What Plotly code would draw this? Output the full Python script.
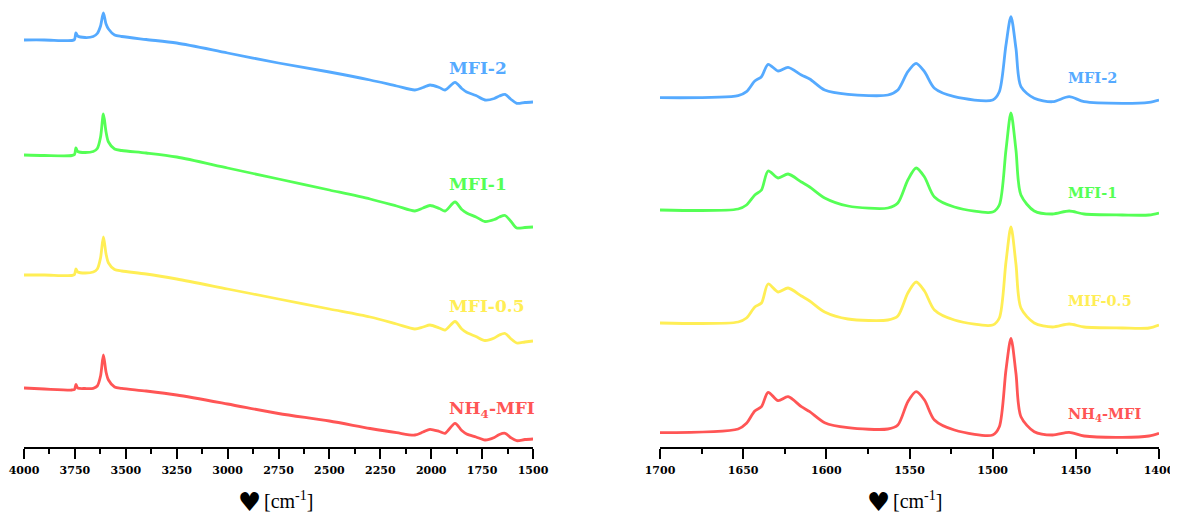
import plotly.graph_objects as go

# ---------------- data (intensity in arbitrary, stacked units) ----------------
WN_LEFT = [4000, 3900, 3765, 3752, 3745, 3736, 3700, 3660, 3640, 3624, 3610, 3597, 3585,
           3555, 3520, 3400, 3250, 3000, 2750, 2500, 2300, 2170, 2080, 2040, 2006, 1960,
           1932, 1883, 1850, 1826, 1780, 1736, 1690, 1665, 1637, 1610, 1580, 1540, 1500]

MFI2_LEFT = [407, 407, 406.5, 407.5, 414, 411, 409.5, 410.5, 413.5, 421, 434, 423, 418,
             412, 410.5, 407.5, 404, 394, 384, 375, 367, 361, 357, 359.5, 362, 359.5,
             357, 364.7, 358.5, 355, 351.5, 347, 348.5, 351, 352.7, 348, 343.7, 344.5, 345]
MFI1_LEFT = [292, 291.5, 291.5, 292.5, 299, 295.5, 294.5, 295.5, 298.5, 310, 333, 315, 305,
             298, 296.5, 294, 290, 279, 268, 257, 248, 241, 236, 239, 241.5, 238.5,
             236, 245, 237.5, 234, 230, 225.5, 227.5, 230, 231.5, 226, 219, 219.5, 220]
MFI05_LEFT = [172, 172, 171.5, 172.5, 178, 175, 174, 175, 178, 189, 210, 193, 184,
              177.5, 176, 173, 168, 158, 148, 138, 130, 123, 118, 120, 122, 119,
              117, 125.5, 118, 114.5, 110.5, 106.5, 109, 112, 113.5, 108.5, 104, 105, 106]
NH4_LEFT = [59, 58, 57, 57.5, 62.7, 59, 58.5, 58.7, 61, 71, 92, 75, 67,
            60, 58.7, 56, 52, 43, 33.5, 26, 18.5, 14.3, 12, 15, 17.7, 15.5,
            13.7, 23.7, 16.5, 13, 10, 7, 9.5, 12.5, 13.7, 9.5, 6.3, 7.5, 8]

WN_RIGHT = [1700, 1653, 1648, 1643, 1639, 1635, 1629, 1623, 1615, 1610, 1601, 1587, 1563,
            1557, 1551, 1546, 1541, 1535, 1523, 1500, 1496, 1492, 1489, 1486, 1483, 1475,
            1464, 1454, 1445, 1422, 1406, 1400]

MFI2_RIGHT = [349.3, 351.3, 355.3, 366, 370.3, 382.7, 376, 379.7, 372, 368, 357, 352.7, 352,
              357, 375.3, 383.7, 375.3, 358.7, 350.3, 347, 355.3, 402, 430.3, 398.7, 360.3,
              348.7, 345.3, 350.3, 345.3, 343.7, 344.7, 347]
MFI1_RIGHT = [237, 238, 242, 252, 257, 276, 269, 273, 265, 260, 249, 241, 239,
              244, 267, 279, 270, 250, 240, 235, 242, 297, 334, 297, 252,
              236, 233, 236, 233, 232, 232, 234]
MIF05_RIGHT = [124, 125, 129, 140, 144, 163, 155, 159, 151, 146, 135, 128, 127,
               131, 154, 165, 156, 137, 127, 122, 129, 185, 220, 183, 139,
               124, 120, 123, 120, 119, 119, 122]
NH4_RIGHT = [14.3, 18, 23.7, 36, 40.3, 54.7, 46.3, 50.3, 40.3, 35.3, 24.3, 19.3, 18,
             22, 45.3, 55.3, 47, 27, 17, 12, 20.3, 77, 108.7, 73.7, 30.3,
             15.3, 12, 14.7, 11, 9.7, 11, 13.7]

TICKS_LEFT = [4000, 3750, 3500, 3250, 3000, 2750, 2500, 2250, 2000, 1750, 1500]
TICKS_RIGHT = [1700, 1650, 1600, 1550, 1500, 1450, 1400]

LABELS_LEFT = ["MFI-2", "MFI-1", "MFI-0.5", "NH<sub>4</sub>-MFI"]
LABELS_RIGHT = ["MFI-2", "MFI-1", "MIF-0.5", "NH<sub>4</sub>-MFI"]
AXIS_TITLE = "[cm<sup>-1</sup>]"

# ---------------- styling ----------------
COLORS = ["#55aaff", "#55ff55", "#ffee55", "#ff5555"]
OFF = 8                      # page body margin of the browser
W, H = 1178 - OFF, 514 - OFF
FONT = "DejaVu Serif"
AXIS_ROW = 447               # screen row of the x-axis line


def px(x):
    return (x - OFF) / W


def py(y):
    return 1 - (y - OFF) / H


fig = go.Figure()
left_series = [MFI2_LEFT, MFI1_LEFT, MFI05_LEFT, NH4_LEFT]
right_series = [MFI2_RIGHT, MFI1_RIGHT, MIF05_RIGHT, NH4_RIGHT]
for ys, c, name in zip(left_series, COLORS, LABELS_LEFT):
    fig.add_trace(go.Scatter(x=WN_LEFT, y=ys, mode="lines", name=name, xaxis="x", yaxis="y",
                             line=dict(color=c, width=2.8, shape="spline", smoothing=0.8),
                             showlegend=False, hoverinfo="skip"))
for ys, c, name in zip(right_series, COLORS, LABELS_RIGHT):
    fig.add_trace(go.Scatter(x=WN_RIGHT, y=ys, mode="lines", name=name, xaxis="x2", yaxis="y2",
                             line=dict(color=c, width=2.8, shape="spline", smoothing=0.8),
                             showlegend=False, hoverinfo="skip"))

axis_common = dict(showgrid=False, zeroline=False, showline=True, linecolor="black",
                   linewidth=1.5, ticks="outside", ticklen=10, tickwidth=1.5, tickcolor="black",
                   ticklabelstandoff=2, ticklabeloverflow="allow",
                   tickfont=dict(family=FONT, size=11, color="black", weight="bold"),
                   tickmode="array", automargin=False)

top_val = AXIS_ROW - OFF
ydom = [1 - (AXIS_ROW - OFF) / H, 1]
fig.update_layout(
    width=W, height=H,
    margin=dict(l=0, r=0, t=0, b=0, autoexpand=False),
    paper_bgcolor="white", plot_bgcolor="white",
    xaxis=dict(domain=[px(24), px(533)], range=[4000, 1500], anchor="y",
               tickvals=TICKS_LEFT, ticktext=[str(t) for t in TICKS_LEFT],
               minor=dict(ticks="outside", dtick=125, tick0=1500, ticklen=5,
                          tickwidth=1.5, tickcolor="black", showgrid=False),
               **axis_common),
    xaxis2=dict(domain=[px(660), px(1159)], range=[1700, 1400], anchor="y2",
                tickvals=TICKS_RIGHT, ticktext=[str(t) for t in TICKS_RIGHT],
                minor=dict(ticks="outside", dtick=25, tick0=1400, ticklen=5,
                           tickwidth=1.5, tickcolor="black", showgrid=False),
                **axis_common),
    yaxis=dict(domain=ydom, range=[0, top_val], visible=False, anchor="x"),
    yaxis2=dict(domain=ydom, range=[0, top_val], visible=False, anchor="x2"),
)

left_y = [68, 184, 306, 409]
right_y = [77, 192, 300, 414]
for lab, c, yy in zip(LABELS_LEFT, COLORS, left_y):
    fig.add_annotation(text=lab, xref="paper", yref="paper", x=px(447), y=py(yy),
                       xanchor="left", yanchor="middle", showarrow=False,
                       font=dict(family=FONT, size=17, color=c, weight="bold"))
for lab, c, yy in zip(LABELS_RIGHT, COLORS, right_y):
    fig.add_annotation(text=lab, xref="paper", yref="paper", x=px(1066), y=py(yy),
                       xanchor="left", yanchor="middle", showarrow=False,
                       font=dict(family=FONT, size=14.5, color=c, weight="bold"))

for hx in (262, 891):
    fig.add_annotation(text="\u2665", xref="paper", yref="paper", x=px(hx + 1), y=py(502),
                       xanchor="right", yanchor="middle", showarrow=False,
                       font=dict(family="DejaVu Sans", size=26, color="black"))
    fig.add_annotation(text=AXIS_TITLE, xref="paper", yref="paper", x=px(hx), y=py(500),
                       xanchor="left", yanchor="middle", showarrow=False,
                       font=dict(family="Liberation Serif", size=20, color="black"))

fig.write_html("out.html")
